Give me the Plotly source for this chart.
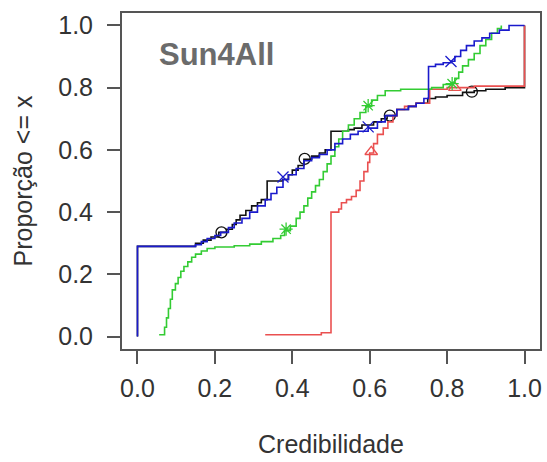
import plotly.graph_objects as go

# ---- data (ECDF knots) ----
black_x = [0.0, 0.0, 0.15, 0.17, 0.19, 0.21, 0.23, 0.245, 0.255, 0.265, 0.28, 0.295, 0.31, 0.32, 0.335,
           0.375, 0.39, 0.40, 0.415, 0.43, 0.45, 0.47, 0.485, 0.50, 0.545, 0.56, 0.58, 0.61, 0.63, 0.645,
           0.67, 0.70, 0.72, 0.75, 0.77, 0.80, 0.84, 0.87, 0.90, 0.95, 1.0]
black_y = [0.0, 0.29, 0.30, 0.31, 0.32, 0.335, 0.345, 0.36, 0.375, 0.39, 0.405, 0.42, 0.43, 0.44, 0.50,
           0.505, 0.52, 0.535, 0.55, 0.57, 0.58, 0.59, 0.60, 0.66, 0.665, 0.67, 0.68, 0.69, 0.70, 0.71,
           0.73, 0.74, 0.75, 0.765, 0.77, 0.775, 0.785, 0.79, 0.795, 0.80, 1.0]

blue_x = [0.0, 0.0, 0.15, 0.165, 0.18, 0.20, 0.215, 0.235, 0.25, 0.27, 0.29, 0.31, 0.33, 0.345, 0.36,
          0.376, 0.39, 0.41, 0.43, 0.45, 0.47, 0.49, 0.51, 0.53, 0.55, 0.57, 0.596, 0.62, 0.64, 0.67,
          0.70, 0.72, 0.74, 0.752, 0.77, 0.79, 0.81, 0.82, 0.835, 0.85, 0.87, 0.89, 0.91, 0.935, 0.96, 1.0]
blue_y = [0.0, 0.29, 0.295, 0.305, 0.315, 0.325, 0.335, 0.35, 0.365, 0.38, 0.40, 0.42, 0.44, 0.46, 0.48,
          0.505, 0.52, 0.54, 0.565, 0.575, 0.585, 0.60, 0.62, 0.635, 0.65, 0.66, 0.67, 0.69, 0.71, 0.73,
          0.74, 0.75, 0.765, 0.868, 0.875, 0.88, 0.885, 0.90, 0.92, 0.935, 0.95, 0.96, 0.975, 0.985, 1.0, 1.0]

green_x = [0.056, 0.07, 0.075, 0.08, 0.085, 0.09, 0.098, 0.105, 0.112, 0.12, 0.13, 0.14, 0.15, 0.165,
           0.18, 0.20, 0.25, 0.29, 0.32, 0.35, 0.37, 0.38, 0.395, 0.41, 0.42, 0.43, 0.44, 0.45, 0.46,
           0.47, 0.48, 0.49, 0.50, 0.51, 0.52, 0.53, 0.545, 0.56, 0.575, 0.59, 0.605, 0.62, 0.64, 0.68,
           0.76, 0.79, 0.81, 0.82, 0.83, 0.84, 0.855, 0.87, 0.885, 0.90, 0.915, 0.93, 0.94]
green_y = [0.006, 0.03, 0.06, 0.09, 0.12, 0.15, 0.17, 0.19, 0.21, 0.225, 0.24, 0.255, 0.265, 0.275,
           0.283, 0.288, 0.292, 0.297, 0.305, 0.315, 0.325, 0.34, 0.355, 0.38, 0.40, 0.42, 0.445, 0.465,
           0.485, 0.505, 0.53, 0.555, 0.58, 0.61, 0.635, 0.66, 0.68, 0.70, 0.72, 0.74, 0.76, 0.775, 0.79,
           0.795, 0.80, 0.81, 0.815, 0.83, 0.85, 0.87, 0.89, 0.91, 0.935, 0.955, 0.975, 0.99, 1.0]

red_x = [0.33, 0.475, 0.50, 0.52, 0.527, 0.54, 0.553, 0.565, 0.575, 0.585, 0.595, 0.60, 0.61, 0.62,
         0.635, 0.647, 0.66, 0.67, 0.69, 0.72, 0.755, 0.80, 0.87, 1.0]
red_y = [0.006, 0.012, 0.40, 0.41, 0.43, 0.44, 0.45, 0.47, 0.50, 0.53, 0.56, 0.59, 0.62, 0.65,
         0.67, 0.69, 0.71, 0.73, 0.74, 0.75, 0.795, 0.80, 0.805, 1.0]

# marker positions
black_mx = [0.217, 0.432, 0.652, 0.864]
black_my = [0.335, 0.571, 0.71, 0.787]
blue_mx = [0.376, 0.596, 0.81]
blue_my = [0.513, 0.674, 0.884]
green_mx = [0.384, 0.596, 0.813]
green_my = [0.345, 0.742, 0.813]
red_mx = [0.604, 0.82]
red_my = [0.594, 0.80]

tick_vals = [0.0, 0.2, 0.4, 0.6, 0.8, 1.0]
tick_text = ["0.0", "0.2", "0.4", "0.6", "0.8", "1.0"]

title_text = "Sun4All"
x_title = "Credibilidade"
y_title = "Proporção <= x"

# ---- figure ----
series = [
    (black_x, black_y, black_mx, black_my, "#111111", "circle-open"),
    (red_x, red_y, red_mx, red_my, "#EA5050", "triangle-up-open"),
    (green_x, green_y, green_mx, green_my, "#33CC33", "asterisk-open"),
    (blue_x, blue_y, blue_mx, blue_my, "#1A1ACC", "x-thin-open"),
]

fig = go.Figure()
for xs, ys, mx, my, col, sym in series:
    fig.add_trace(go.Scatter(x=xs, y=ys, mode="lines", line=dict(color=col, width=1.6, shape="hv"),
                             showlegend=False, hoverinfo="skip"))
    fig.add_trace(go.Scatter(x=mx, y=my, mode="markers",
                             marker=dict(symbol=sym, size=11, color=col, line=dict(color=col, width=1.3)),
                             showlegend=False, hoverinfo="skip"))

axis_common = dict(
    tickvals=tick_vals, ticktext=tick_text, ticks="outside", ticklen=13, tickwidth=1.5,
    tickcolor="#555555", showline=True, linecolor="#555555", linewidth=2, mirror=True,
    showgrid=False, zeroline=False, tickfont=dict(family="Liberation Sans", size=25, color="#333333"),
)

fig.update_layout(
    width=547, height=462,
    margin=dict(l=122, r=5, t=13, b=113),
    paper_bgcolor="white", plot_bgcolor="white",
    font=dict(family="Liberation Sans", color="#333333"),
    xaxis=dict(range=[-0.04, 1.04], ticklabelstandoff=3, **axis_common),
    yaxis=dict(range=[-0.04, 1.04], ticklabelstandoff=9, **axis_common),
    annotations=[
        dict(text=title_text, xref="paper", yref="paper", x=0.083, y=0.876, xanchor="left",
             yanchor="middle", showarrow=False,
             font=dict(family="Liberation Sans", size=31, color="#6b6b6b", weight="bold")),
        dict(text=x_title, xref="paper", yref="paper", x=0.5, y=(349 - 460) / 336, xanchor="center",
             yanchor="bottom", showarrow=False,
             font=dict(family="Liberation Sans", size=25, color="#333333")),
        dict(text=y_title, xref="paper", yref="paper", x=(23 - 122) / 420, y=0.5, xanchor="center",
             yanchor="middle", textangle=-90, showarrow=False,
             font=dict(family="Liberation Sans", size=25, color="#333333")),
    ],
)

fig.write_html("out.html")
